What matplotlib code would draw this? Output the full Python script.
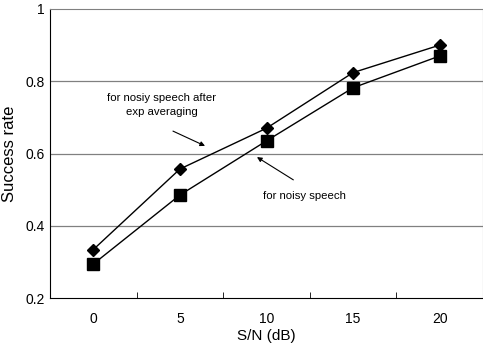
import matplotlib
matplotlib.use("Agg")
import matplotlib.pyplot as plt

snr_labels = ["0", "5", "10", "15", "20"]
after_exp = [0.334, 0.557, 0.670, 0.824, 0.900]
noisy = [0.294, 0.485, 0.635, 0.782, 0.870]
y_ticks = [0.2, 0.4, 0.6, 0.8, 1.0]
y_tick_labels = ["0.2", "0.4", "0.6", "0.8", "1"]

plt.rcParams['font.family'] = ['Liberation Sans', 'DejaVu Sans']

fig = plt.figure(figsize=(4.83, 3.51), dpi=100)
ax = fig.add_axes([50/483, 1-298/351, 433/483, 289/351])

x = list(range(len(snr_labels)))
ax.plot(x, after_exp, color='black', lw=1.0, marker='D', ms=6.5, zorder=3)
ax.plot(x, noisy, color='black', lw=1.0, marker='s', ms=8, zorder=3)

ax.set_xlim(-0.5, len(snr_labels) - 0.5)
ax.set_ylim(0.2, 1.0)
ax.set_yticks(y_ticks)
ax.set_yticklabels(y_tick_labels, fontsize=10)
ax.set_xticks(x)
ax.set_xticklabels(snr_labels, fontsize=10)
ax.tick_params(axis='x', length=0, pad=10)
ax.tick_params(axis='y', length=0, pad=4)
ax.set_xticks([i + 0.5 for i in x[:-1]], minor=True)
ax.tick_params(axis='x', which='minor', direction='in', length=4, color='black')

for yv in y_ticks[1:-1]:
    ax.axhline(yv, color='#808080', lw=0.9, zorder=1)

ax.spines['left'].set_color('black')
ax.spines['bottom'].set_color('black')
for s in ['top', 'right']:
    ax.spines[s].set_color('#808080')
    ax.spines[s].set_linestyle((0, (1, 1)))
    ax.spines[s].set_linewidth(0.8)

ax.set_ylabel("Success rate", fontsize=12, labelpad=6)
ax.set_xlabel("S/N (dB)", fontsize=11, labelpad=2)

arrow_kw = dict(arrowstyle='-|>', color='black', lw=0.8, mutation_scale=7,
                shrinkA=0, shrinkB=0)
ax.text(0.79, 0.734, "for nosiy speech after\nexp averaging", ha='center', va='center',
        fontsize=8.2, linespacing=1.6)
ax.annotate("", xy=(1.29, 0.621), xytext=(0.92, 0.662), arrowprops=arrow_kw)
ax.text(2.44, 0.482, "for noisy speech", ha='center', va='center', fontsize=8.2)
ax.annotate("", xy=(1.89, 0.590), xytext=(2.31, 0.527), arrowprops=arrow_kw)

fig.savefig("out.png", dpi=100)
